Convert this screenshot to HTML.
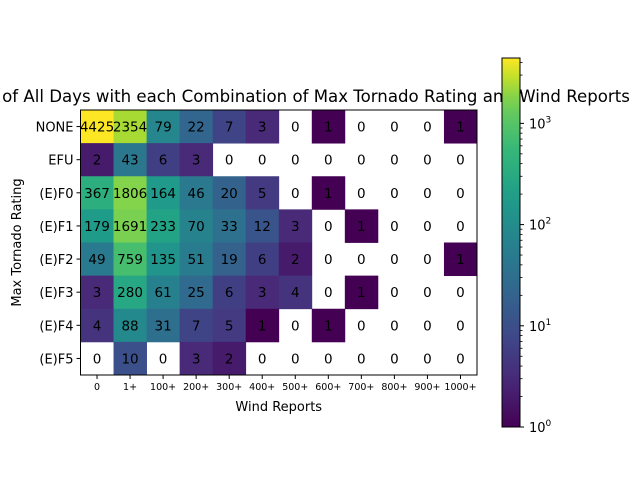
<!DOCTYPE html>
<html><head><meta charset="utf-8"><style>
body{margin:0;background:#fff;}
svg{display:block;font-family:"DejaVu Sans","Liberation Sans",sans-serif;}
</style></head><body>
<svg id="chart" width="640" height="480" viewBox="0 0 640 480"></svg>
<script>
const categoriesX=["0","1+","100+","200+","300+","400+","500+","600+","700+","800+","900+","1000+"];
const categoriesY=["NONE","EFU","(E)F0","(E)F1","(E)F2","(E)F3","(E)F4","(E)F5"];
const rowNONE=[4425,2354,79,22,7,3,0,1,0,0,0,1];
const rowEFU=[2,43,6,3,0,0,0,0,0,0,0,0];
const rowF0=[367,1806,164,46,20,5,0,1,0,0,0,0];
const rowF1=[179,1691,233,70,33,12,3,0,1,0,0,0];
const rowF2=[49,759,135,51,19,6,2,0,0,0,0,1];
const rowF3=[3,280,61,25,6,3,4,0,1,0,0,0];
const rowF4=[4,88,31,7,5,1,0,1,0,0,0,0];
const rowF5=[0,10,0,3,2,0,0,0,0,0,0,0];
const values=[rowNONE,rowEFU,rowF0,rowF1,rowF2,rowF3,rowF4,rowF5];
const cbTicks=[1,10,100,1000];
const cbTickLabels=["0","1","2","3"];

const NS="http://www.w3.org/2000/svg";
const svg=document.getElementById('chart');
function mk(tag,attrs,parent){const e=document.createElementNS(NS,tag);for(const k in attrs)e.setAttribute(k,attrs[k]);(parent||svg).appendChild(e);return e;}
const L=80.5,T=110,R=477,B=375;
const cw=(R-L)/categoriesX.length, ch=(B-T)/categoriesY.length;
const vmax=Math.max(...values.flat());
const stops=[[0,[68,1,84]],[0.125,[72,40,120]],[0.25,[62,73,137]],[0.375,[49,104,142]],[0.5,[38,130,142]],[0.625,[31,158,137]],[0.75,[53,183,121]],[0.875,[110,206,88]],[0.9375,[181,222,43]],[1,[253,231,37]]];
function viridis(t){t=Math.max(0,Math.min(1,t));for(let i=1;i<stops.length;i++){if(t<=stops[i][0]){const a=stops[i-1],b=stops[i];const f=(t-a[0])/(b[0]-a[0]);const c=a[1].map((v,j)=>Math.round(v+(b[1][j]-v)*f));return `rgb(${c.join(',')})`;}}return 'rgb(253,231,37)';}
function norm(v){return Math.log(v)/Math.log(vmax);}
function xPos(i){return L+i*cw;}
function yPos(j){return T+j*ch;}

const title=mk('text',{x:280,y:102,'text-anchor':'middle','font-size':'16.6px',fill:'#000'});
title.textContent="Number of All Days with each Combination of Max Tornado Rating and Wind Reports";



values.forEach((row,j)=>row.forEach((v,i)=>{
  if(v>0){
    const r=mk('rect',{x:xPos(i),y:yPos(j),width:cw+0.4,height:ch+0.4,fill:viridis(norm(v))});
    
    
  }
  const t=mk('text',{x:xPos(i)+cw/2,y:yPos(j)+ch/2+5,'text-anchor':'middle','font-size':'13.5px',fill:'#000'});
  t.textContent=v;
  
  
}));
const frame=mk('rect',{x:L,y:T,width:R-L,height:B-T,fill:'none',stroke:'#000','stroke-width':1});



categoriesX.forEach((c,i)=>{
  const x=xPos(i)+cw/2;
  mk('line',{x1:x,x2:x,y1:B,y2:B+4,stroke:'#000'});
  const t=mk('text',{x:x,y:B+15,'text-anchor':'middle','font-size':'9.5px'});
  t.textContent=c;
  
  
});
categoriesY.forEach((c,j)=>{
  const y=yPos(j)+ch/2;
  mk('line',{x1:L-4,x2:L,y1:y,y2:y,stroke:'#000'});
  const t=mk('text',{x:L-7,y:y+5,'text-anchor':'end','font-size':'13px'});
  t.textContent=c;
  
  
});
const xt=mk('text',{x:(L+R)/2,y:411,'text-anchor':'middle','font-size':'13px'});
xt.textContent="Wind Reports";


const yt=mk('text',{x:0,y:0,'text-anchor':'middle','font-size':'13px',transform:`translate(21,${(T+B)/2}) rotate(-90)`});
yt.textContent="Max Tornado Rating";



const CL=502,CR=520,CT=58,CB=427;
const defs=mk('defs',{});
const g=mk('linearGradient',{id:'vir',x1:0,y1:1,x2:0,y2:0},defs);
for(let k=0;k<=20;k++){mk('stop',{offset:k/20,'stop-color':viridis(k/20)},g);}
const cb=mk('rect',{x:CL,y:CT,width:CR-CL,height:CB-CT,fill:'url(#vir)',stroke:'#000','stroke-width':1});


function cbY(v){return CB-(CB-CT)*norm(v);}
for(let d=0;d<4;d++){for(let m=2;m<=9;m++){const v=m*Math.pow(10,d);if(v<=vmax){const y=cbY(v);mk('line',{x1:CR,x2:CR+2.5,y1:y,y2:y,stroke:'#000','stroke-width':0.8});}}}
cbTicks.forEach((v,k)=>{
  const y=cbY(v);
  mk('line',{x1:CR,x2:CR+4,y1:y,y2:y,stroke:'#000'});
  const t=mk('text',{x:CR+9,y:y+5,'font-size':'13px'});
  t.textContent="10";
  const s=mk('tspan',{dy:-6,'font-size':'9px'},t);
  s.textContent=cbTickLabels[k];
  
  
});
</script>
</body></html>
